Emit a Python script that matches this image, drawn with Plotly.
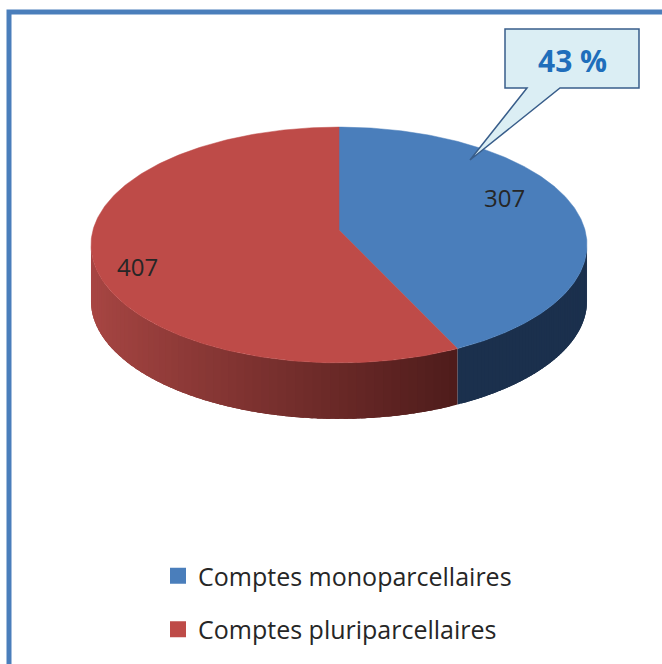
import numpy as np
import plotly.graph_objects as go

# ---- data ----
categories = ["Comptes monoparcellaires", "Comptes pluriparcellaires"]
values = [307, 407]
top_colors = ["#4A7EBB", "#BE4B48"]
side_colors_light = ["#1C3252", "#A84643"]
side_colors_dark = ["#1B2F48", "#4E1C1B"]

# ---- geometry (pixel-like coordinate space, perspective-projected disc) ----
W, H = 662, 664
CX, CY = 339, 230          # projected centre of the disc
A, B, P = 246, 116, 0.127  # horizontal / vertical radius, perspective factor
DEPTH = 56

total = float(sum(values))
fracs = [v / total for v in values]
starts = np.cumsum([0] + [f * 360 for f in fracs[:-1]])
ends = starts + np.array([f * 360 for f in fracs])


def rim(theta_deg, r=1.0):
    t = np.radians(theta_deg)
    u, v = r * np.sin(t), r * np.cos(t)
    w = 1 + P * v
    return CX + A * u / w, CY - B * v / w


def hex_to_rgb(h):
    h = h.lstrip("#")
    return np.array([int(h[i:i + 2], 16) for i in (0, 2, 4)], dtype=float)


def mix(c1, c2, f):
    c = hex_to_rgb(c1) * (1 - f) + hex_to_rgb(c2) * f
    return "rgb(%d,%d,%d)" % tuple(np.round(c).astype(int))


fig = go.Figure()

# visible side wall lies between the two silhouette tangent points
sil = np.degrees(np.arccos(-P))
vis_lo, vis_hi = sil, 360 - sil
x_left = rim(vis_hi)[0]

for i, (s, e) in enumerate(zip(starts, ends)):
    lo, hi = max(s, vis_lo), min(e, vis_hi)
    if hi <= lo:
        continue
    n = 60
    edges = np.linspace(lo, hi, n + 1)
    step = edges[1] - edges[0]
    order = range(n) if i == 1 else range(n - 1, -1, -1)
    for k in order:
        if i == 1:
            a0, a1 = edges[k], min(edges[k + 1] + step * 1.5, hi)
        else:
            a0, a1 = max(edges[k] - step * 1.5, lo), edges[k + 1]
        t = np.linspace(a0, a1, 8)
        xs, ys = rim(t)
        px = np.concatenate([xs, xs[::-1]])
        py = np.concatenate([ys, ys[::-1] + DEPTH])
        xm = rim(0.5 * (edges[k] + edges[k + 1]))[0]
        x_right = rim(lo)[0]
        f = np.clip((xm - x_left) / (x_right - x_left), 0, 1) if i == 1 else 0.5
        col = mix(side_colors_light[i], side_colors_dark[i], f ** 0.9)
        fig.add_trace(go.Scatter(
            x=px, y=py, fill="toself", mode="none",
            fillcolor=col, hoverinfo="skip", showlegend=False))

# top faces
for i, (s, e) in enumerate(zip(starts, ends)):
    t = np.linspace(s, e, 240)
    xs, ys = rim(t)
    px = np.concatenate([[CX], xs, [CX]])
    py = np.concatenate([[CY], ys, [CY]])
    fig.add_trace(go.Scatter(
        x=px, y=py, fill="toself", mode="lines",
        fillcolor=top_colors[i], line=dict(color=top_colors[i], width=0.5),
        hoverinfo="skip", showlegend=False))

# legend entries
for i, cat in enumerate(categories):
    fig.add_trace(go.Scatter(
        x=[None], y=[None], mode="markers", name=cat, legendgroup=cat,
        marker=dict(symbol="square", size=16, color=top_colors[i],
                    line=dict(width=0))))

# data labels
label_pos = [(504, 197), (137, 266)]
annotations = []
for v, (lx, ly) in zip(values, label_pos):
    annotations.append(dict(
        x=lx, y=ly, xref="x", yref="y", text=str(v), showarrow=False,
        font=dict(family="Open Sans", size=24, color="#262626")))

# callout with percentage
pct = round(100 * fracs[0])
annotations.append(dict(
    x=572, y=60, xref="x", yref="y", text="<b>%d %%</b>" % pct,
    showarrow=False, font=dict(family="Open Sans", size=30, color="#1F6EBB")))

shapes = [
    dict(type="path", xref="x", yref="y", layer="above",
         path="M 505,29 L 639,29 L 639,88 L 560,88 L 470,160 L 527,88 L 505,88 Z",
         fillcolor="#DBEEF4", line=dict(color="#385D8A", width=1.5)),
    dict(type="rect", xref="x", yref="y", x0=9, y0=12, x1=720, y1=720,
         line=dict(color="#4A7EBB", width=5), layer="above"),
]

fig.update_layout(
    width=W, height=H,
    margin=dict(l=0, r=0, t=0, b=0),
    paper_bgcolor="white", plot_bgcolor="white",
    xaxis=dict(range=[0, W], visible=False, fixedrange=True),
    yaxis=dict(range=[H, 0], visible=False, fixedrange=True),
    showlegend=True,
    legend=dict(x=158 / W, xanchor="left", y=1 - 553 / H, yanchor="top",
                font=dict(family="Open Sans", size=25, color="#262626"),
                tracegroupgap=18, bgcolor="rgba(0,0,0,0)"),
    shapes=shapes,
    annotations=annotations,
)

fig.write_html("out.html", config={"displayModeBar": False},
               post_script="document.body.style.margin='0';"
                           "document.body.style.overflow='hidden';")
